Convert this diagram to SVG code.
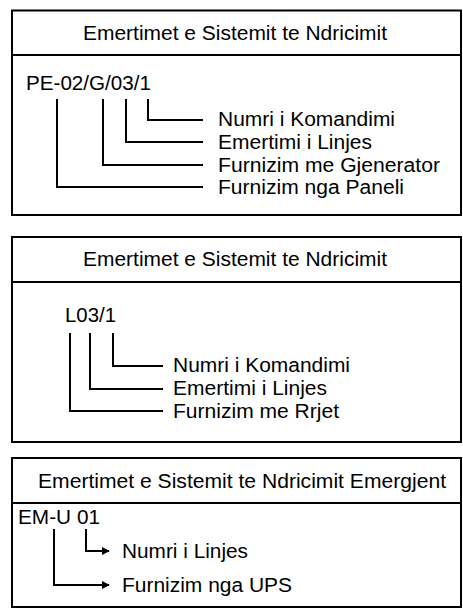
<svg xmlns="http://www.w3.org/2000/svg" width="463" height="613" viewBox="0 0 463 613">
<style>
.box{fill:#fff;stroke:#000;stroke-width:2}
.ln{fill:none;stroke:#000;stroke-width:2}
text{font-family:"Liberation Sans",Arial,sans-serif;font-size:20px;fill:#000}
.t{text-anchor:middle}
</style>
<defs>
<marker id="ah" viewBox="0 0 10 10" refX="9" refY="5" markerWidth="4" markerHeight="4" orient="auto" markerUnits="strokeWidth">
<path d="M0,0 L10,5 L0,10 z" fill="#000"/>
</marker>
</defs>
<rect width="463" height="613" fill="#fff"/>
<g id="panel1">
<rect class="box" x="12" y="10.5" width="449" height="204.5"/>
<line class="ln" x1="12" y1="55" x2="461" y2="55"/>
<text x="235" y="40" class="t" textLength="304" lengthAdjust="spacingAndGlyphs">Emertimet e Sistemit te Ndricimit</text>
<text x="26" y="90" textLength="125" lengthAdjust="spacingAndGlyphs">PE-02/G/03/1</text>
<text x="218" y="126" textLength="177" lengthAdjust="spacingAndGlyphs">Numri i Komandimi</text>
<text x="218" y="148.5" textLength="154" lengthAdjust="spacingAndGlyphs">Emertimi i Linjes</text>
<text x="218" y="171.5" textLength="222" lengthAdjust="spacingAndGlyphs">Furnizim me Gjenerator</text>
<text x="218" y="193.5" textLength="186" lengthAdjust="spacingAndGlyphs">Furnizim nga Paneli</text>
</g>
<g id="panel2">
<rect class="box" x="12" y="237" width="449" height="205"/>
<line class="ln" x1="12" y1="282" x2="461" y2="282"/>
<text x="235" y="266" class="t" textLength="304" lengthAdjust="spacingAndGlyphs">Emertimet e Sistemit te Ndricimit</text>
<text x="65" y="322" textLength="51" lengthAdjust="spacingAndGlyphs">L03/1</text>
<text x="173" y="372" textLength="177" lengthAdjust="spacingAndGlyphs">Numri i Komandimi</text>
<text x="173" y="395" textLength="154" lengthAdjust="spacingAndGlyphs">Emertimi i Linjes</text>
<text x="173" y="417.5" textLength="166" lengthAdjust="spacingAndGlyphs">Furnizim me Rrjet</text>
</g>
<g id="panel3">
<rect class="box" x="12" y="458" width="449" height="149"/>
<line class="ln" x1="12" y1="503" x2="461" y2="503"/>
<text x="242" y="488" class="t" textLength="408" lengthAdjust="spacingAndGlyphs">Emertimet e Sistemit te Ndricimit Emergjent</text>
<text x="18" y="524" textLength="82" lengthAdjust="spacingAndGlyphs">EM-U 01</text>
<text x="122" y="558" textLength="126" lengthAdjust="spacingAndGlyphs">Numri i Linjes</text>
<text x="122" y="592" textLength="170" lengthAdjust="spacingAndGlyphs">Furnizim nga UPS</text>
</g>
<g id="connectors">
<path class="ln" d="M148,99 V120 H203"/>
<path class="ln" d="M126,99 V142 H203"/>
<path class="ln" d="M103,99 V165 H203"/>
<path class="ln" d="M57,99 V187 H203"/>
<path class="ln" d="M113,333 V366 H163"/>
<path class="ln" d="M90,333 V389 H163"/>
<path class="ln" d="M70,333 V411 H163"/>
<path class="ln" d="M86,529 V551 H109" marker-end="url(#ah)"/>
<path class="ln" d="M54,529 V585 H109" marker-end="url(#ah)"/>
</g>
</svg>
